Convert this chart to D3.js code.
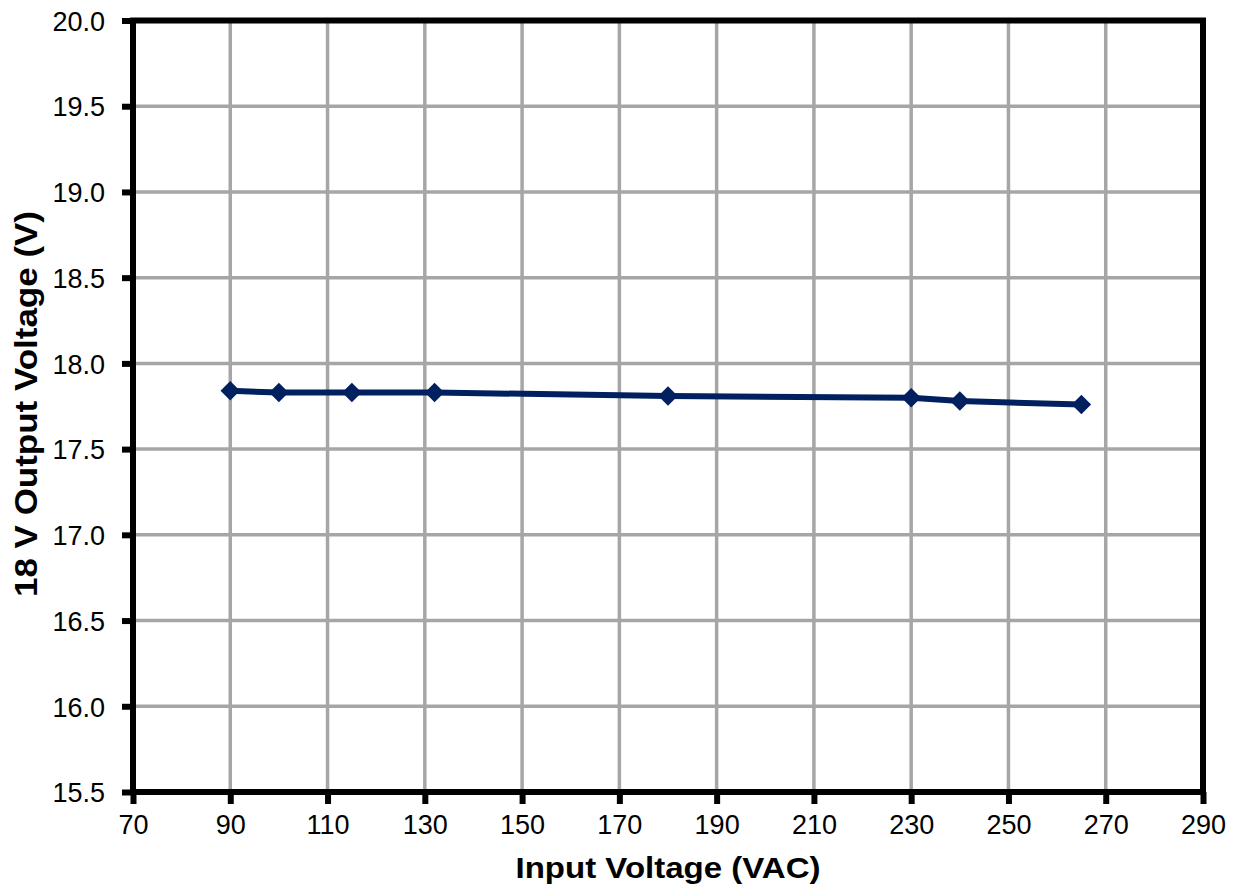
<!DOCTYPE html>
<html>
<head>
<meta charset="utf-8">
<script src="https://cdn.jsdelivr.net/npm/d3@7"></script>
<style>
  body { margin: 0; background: #fff; }
  text { font-family: "Liberation Sans", Arial, sans-serif; }
</style>
</head>
<body>
<svg id="chart" width="1237" height="892"></svg>
<script>
// input voltage (VAC) and measured 18 V rail output
var inputVac = [90, 100, 115, 132, 180, 230, 240, 265]
var outputV = [17.84, 17.83, 17.83, 17.83, 17.81, 17.80, 17.78, 17.76]

var xTicks = d3.range(70, 291, 20)
var yTicks = d3.range(15.5, 20.01, 0.5)

var svg = d3.select('#chart')
var plotL = 133, plotR = 1203, plotT = 20.5, plotB = 792

var x = d3.scaleLinear().domain([70, 290]).range([plotL, plotR])
var y = d3.scaleLinear().domain([15.5, 20]).range([plotB, plotT])

// grid
svg.append('g')
  .selectAll('line')
  .data(xTicks)
  .join('line')
    .attr('x1', d => x(d)).attr('x2', d => x(d))
    .attr('y1', plotT).attr('y2', plotB)
    .attr('stroke', '#a6a6a6')
    .attr('stroke-width', 3.5)

svg.append('g')
  .selectAll('line')
  .data(yTicks)
  .join('line')
    .attr('x1', plotL).attr('x2', plotR)
    .attr('y1', d => y(d)).attr('y2', d => y(d))
    .attr('stroke', '#a6a6a6')
    .attr('stroke-width', 3.5)

// axes
var xAxis = svg.append('g')
  .attr('transform', 'translate(0,' + plotB + ')')
  .call(d3.axisBottom(x).tickValues(xTicks).tickSize(12).tickPadding(11).tickFormat(d3.format('d')))
var yAxis = svg.append('g')
  .attr('transform', 'translate(' + plotL + ',0)')
  .call(d3.axisLeft(y).tickValues(yTicks).tickSize(11).tickPadding(17).tickFormat(d3.format('.1f')))

;[xAxis, yAxis].forEach(a => {
  a.select('.domain').remove()
  a.selectAll('.tick line').attr('stroke', '#000').attr('stroke-width', 6)
  a.selectAll('.tick text')
    .attr('fill', '#000')
    .style('font-size', '27px')
    .style('font-family', '"Liberation Sans", Arial, sans-serif')
})
xAxis.selectAll('.tick text').attr('dy', '0.71em')
yAxis.selectAll('.tick text').attr('dy', '0.36em')

// frame
svg.append('rect')
  .attr('x', plotL).attr('y', plotT)
  .attr('width', plotR - plotL).attr('height', plotB - plotT)
  .attr('fill', 'none')
  .attr('stroke', '#000')
  .attr('stroke-width', 6)

// the series
var line = d3.line()
  .x((d, i) => x(inputVac[i]))
  .y(d => y(d))

svg.append('path')
  .datum(outputV)
  .attr('d', line)
  .attr('fill', 'none')
  .attr('stroke', '#002060')
  .attr('stroke-width', 6)

svg.append('g')
  .selectAll('path')
  .data(outputV)
  .join('path')
    .attr('d', d3.symbol().type(d3.symbolSquare).size(190))
    .attr('transform', (d, i) => 'translate(' + x(inputVac[i]) + ',' + y(d) + ') rotate(45)')
    .attr('fill', '#002060')

// titles
svg.append('text')
  .attr('x', 668)
  .attr('y', 878)
  .attr('text-anchor', 'middle')
  .attr('textLength', 305)
  .attr('lengthAdjust', 'spacingAndGlyphs')
  .style('font-size', '30px')
  .style('font-weight', 'bold')
  .text('Input Voltage (VAC)')

svg.append('text')
  .attr('transform', 'translate(37,' + 404 + ') rotate(-90)')
  .attr('text-anchor', 'middle')
  .attr('textLength', 386)
  .attr('lengthAdjust', 'spacingAndGlyphs')
  .style('font-size', '31px')
  .style('font-weight', 'bold')
  .text('18 V Output Voltage (V)')
</script>
</body>
</html>
